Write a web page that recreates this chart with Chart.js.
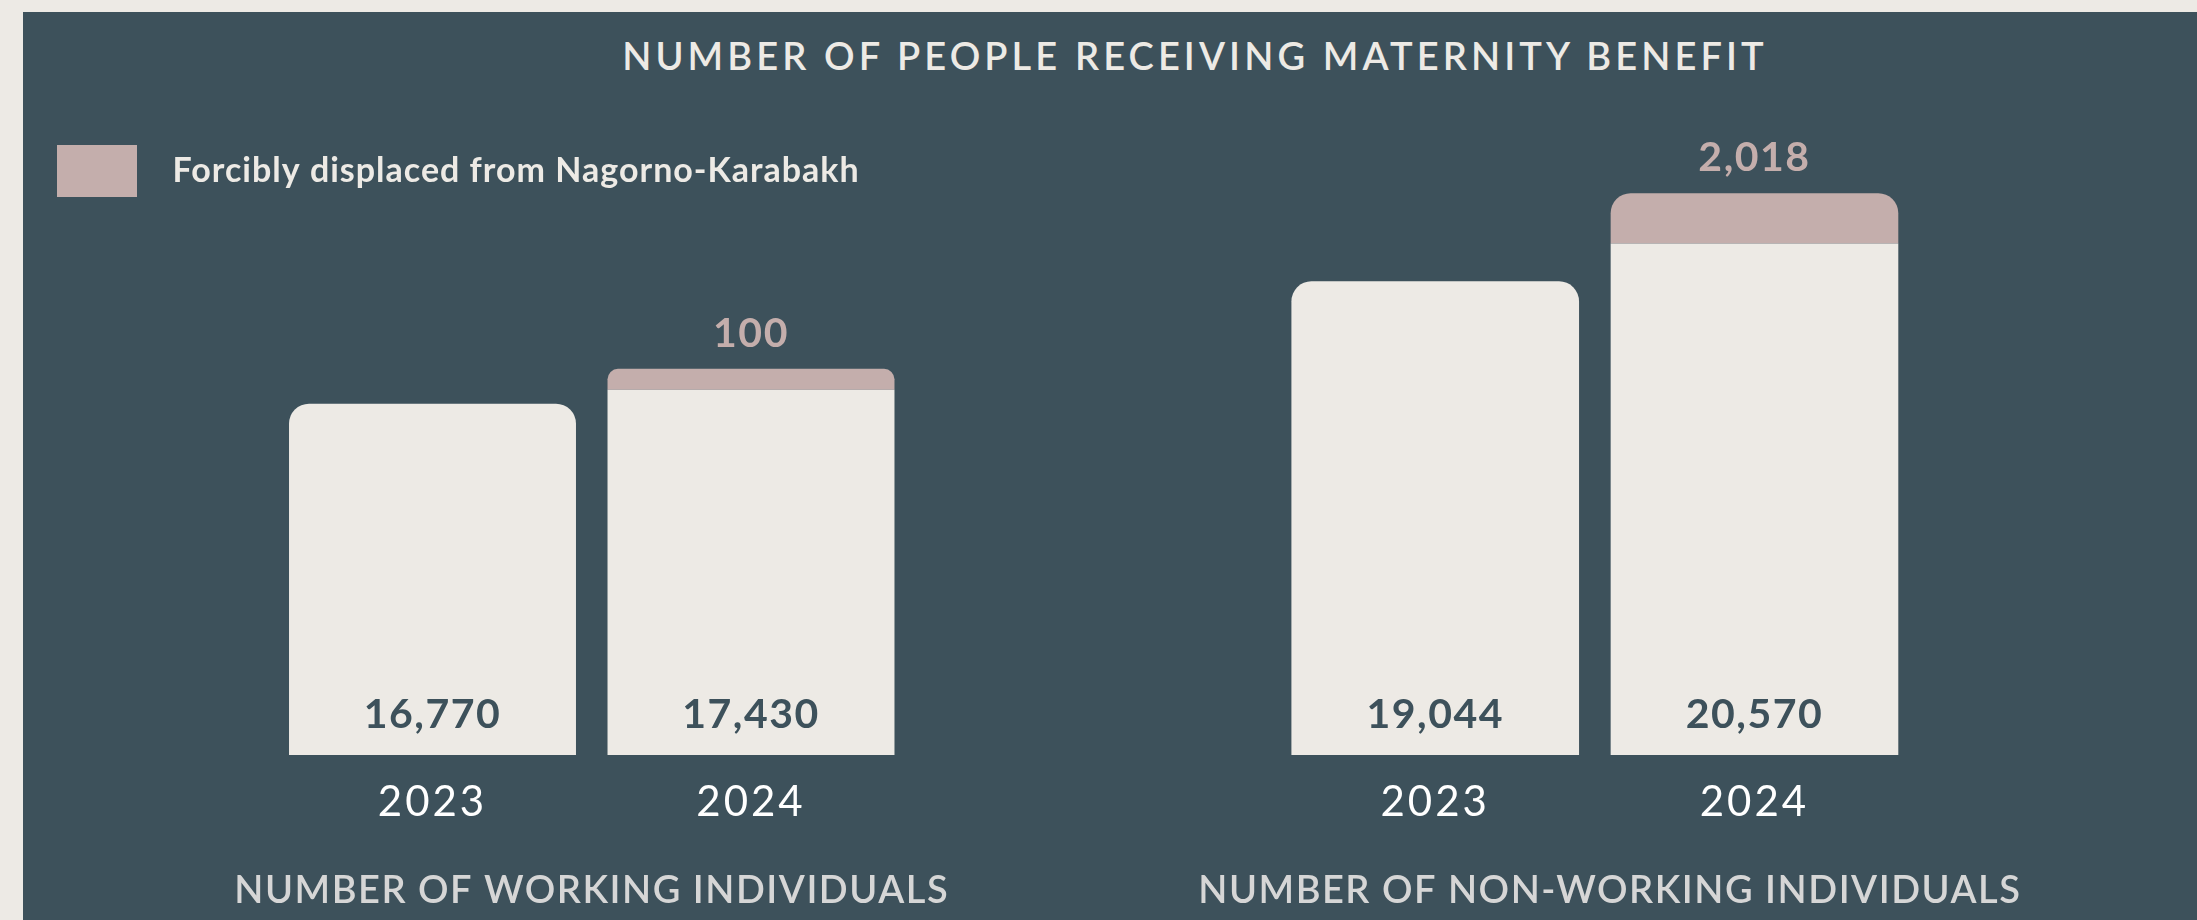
<!DOCTYPE html>
<html>
<head>
<meta charset="utf-8">
<script src="https://cdn.jsdelivr.net/npm/chart.js@4"></script>
<style>
  html, body { margin: 0; padding: 0; background: #edeae5; width: 2197px; height: 920px; overflow: hidden; }
  #panel { position: absolute; left: 23px; top: 12px; width: 2174px; height: 908px; background: #3d515b; }
  #title { position: absolute; top: 20px; left: 1172px; transform: translateX(-50%); white-space: nowrap;
           font-family: Lato, sans-serif; font-weight: 600; font-size: 38px; line-height: 46px; letter-spacing: 4.1px; color: #edeae5; }
  #c1 { position: absolute; left: 0; top: 0; }
  #c2 { position: absolute; left: 1137px; top: 0; }
</style>
</head>
<body>
<div id="panel">
  <div id="title">NUMBER OF PEOPLE RECEIVING MATERNITY BENEFIT</div>
  <canvas id="c1" width="1137" height="908"></canvas>
  <canvas id="c2" width="1037" height="908"></canvas>
</div>
<script>
// ---- data ----
const years = ['2023', '2024'];
const workingTotal = [16770, 17430];
const workingDisplaced = [null, 100];
const nonWorkingTotal = [19044, 20570];
const nonWorkingDisplaced = [null, 2018];
const legendLabel = 'Forcibly displaced from Nagorno-Karabakh';
const leftAxisTitle = 'NUMBER OF WORKING INDIVIDUALS';
const rightAxisTitle = 'NUMBER OF NON-WORKING INDIVIDUALS';

// ---- style ----
const CREAM = '#edeae5';
const PINK = '#c4aeac';
const DARK = '#3d515b';
const FONT = 'Lato, sans-serif';

const fmt = v => v.toLocaleString('en-US');

// letter spacing: legend (drawn before datasets), axis ticks (drawn after datasets, z=1)
const spacing = {
  id: 'spacing',
  beforeDraw(chart) { chart.ctx.letterSpacing = '1px'; },
  beforeDatasetsDraw(chart) { chart.ctx.letterSpacing = '0px'; },
  afterDraw(chart) { chart.ctx.letterSpacing = '0px'; }
};

const valueLabels = {
  id: 'valueLabels',
  afterDatasetsDraw(chart) {
    const ctx = chart.ctx;
    ctx.save();
    ctx.letterSpacing = '1.5px';
    ctx.textAlign = 'center';
    ctx.textBaseline = 'middle';
    ctx.font = '700 41px ' + FONT;
    chart.data.datasets.forEach((ds, di) => {
      const meta = chart.getDatasetMeta(di);
      meta.data.forEach((bar, i) => {
        const v = ds.data[i];
        if (v == null) return;
        if (di === 0) {
          ctx.fillStyle = DARK;
          ctx.fillText(fmt(v), bar.x, bar.base - 40);
        } else {
          ctx.fillStyle = PINK;
          ctx.fillText(fmt(v), bar.x, bar.y - 35);
        }
      });
    });
    ctx.restore();
    ctx.letterSpacing = '3px';
  }
};

// group caption under the x axis (wider than the plot area, so drawn without squeezing)
const groupCaption = {
  id: 'groupCaption',
  afterDraw(chart, args, opts) {
    const ctx = chart.ctx;
    const area = chart.chartArea;
    ctx.save();
    ctx.letterSpacing = '1.5px';
    ctx.textAlign = 'center';
    ctx.textBaseline = 'middle';
    ctx.font = '600 38px ' + FONT;
    ctx.fillStyle = '#d6d6d6';
    ctx.fillText(opts.text, (area.left + area.right) / 2 + (opts.dx || 0), area.bottom + 135.5);
    ctx.restore();
  }
};

function makeDatasets(totals, displaced) {
  return [
    {
      label: 'Total',
      data: totals,
      backgroundColor: CREAM,
      borderWidth: 0,
      borderSkipped: 'start',
      borderRadius: c => (displaced[c.dataIndex] != null)
        ? {topLeft: 0, topRight: 0, bottomLeft: 0, bottomRight: 0}
        : {topLeft: 20, topRight: 20, bottomLeft: 0, bottomRight: 0},
      barPercentage: 0.901,
      categoryPercentage: 1
    },
    {
      label: legendLabel,
      data: displaced,
      backgroundColor: PINK,
      borderWidth: 0,
      borderSkipped: 'start',
      borderRadius: {topLeft: 20, topRight: 20, bottomLeft: 0, bottomRight: 0},
      minBarLength: 21,
      barPercentage: 0.901,
      categoryPercentage: 1
    }
  ];
}

function xScale() {
  return {
    stacked: true,
    grid: { display: false, drawTicks: false, z: 1 },
    border: { display: false },
    ticks: { z: 1, color: '#ffffff', padding: 22, font: { family: FONT, size: 42, weight: 400 } },
    title: { display: false },
    afterFit: s => { s.height = 165; }
  };
}

Chart.defaults.font.family = FONT;

new Chart(document.getElementById('c1'), {
  type: 'bar',
  data: { labels: years, datasets: makeDatasets(workingTotal, workingDisplaced) },
  options: {
    responsive: false,
    animation: false,
    layout: { padding: { left: 24, right: 249.75, top: 123, bottom: 0 } },
    plugins: {
      tooltip: { enabled: false },
      groupCaption: { text: leftAxisTitle, dx: 0 },
      legend: {
        display: true,
        position: 'top',
        align: 'start',
        labels: {
          boxWidth: 80,
          boxHeight: 52,
          padding: 10,
          color: CREAM,
          font: { family: FONT, size: 34, weight: 700 },
          filter: item => item.datasetIndex === 1,
          generateLabels: chart => {
            const items = Chart.defaults.plugins.legend.labels.generateLabels(chart);
            items.forEach(it => { it.text = '  ' + it.text; });
            return items;
          }
        }
      }
    },
    scales: {
      x: xScale(),
      y: {
        stacked: true, min: 0, max: 26158,
        ticks: { display: false }, grid: { display: false }, border: { display: false },
        afterFit: s => { s.width = 226.25; }
      }
    }
  },
  plugins: [spacing, valueLabels, groupCaption]
});

new Chart(document.getElementById('c2'), {
  type: 'bar',
  data: { labels: years, datasets: makeDatasets(nonWorkingTotal, nonWorkingDisplaced) },
  options: {
    responsive: false,
    animation: false,
    layout: { padding: { left: 115.6, right: 282.9, top: 60, bottom: 0 } },
    plugins: {
      tooltip: { enabled: false },
      legend: { display: false },
      groupCaption: { text: rightAxisTitle, dx: 15 }
    },
    scales: {
      x: xScale(),
      y: { stacked: true, display: false, min: 0, max: 27461 }
    }
  },
  plugins: [spacing, valueLabels, groupCaption]
});
</script>
</body>
</html>
